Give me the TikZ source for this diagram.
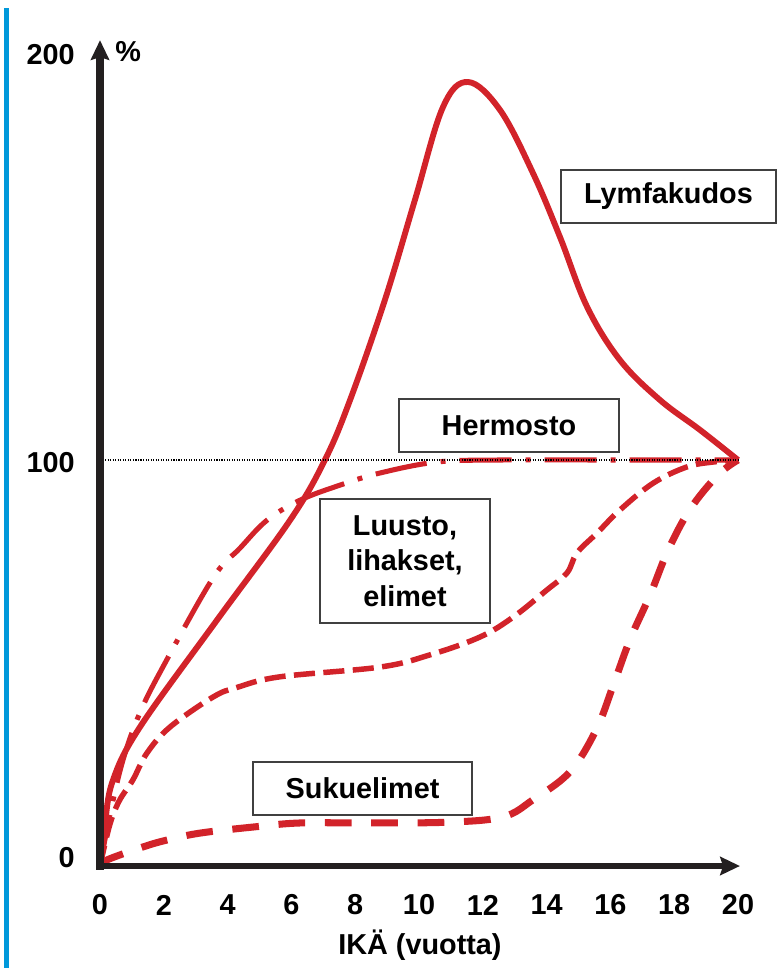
\documentclass[tikz,border=0pt]{standalone}
\usepackage{fontspec}
\setmainfont{Liberation Sans}
\usetikzlibrary{arrows.meta}
\definecolor{curvered}{RGB}{210,35,42}
\definecolor{axisblack}{RGB}{35,31,32}
\definecolor{edgeblue}{RGB}{0,152,218}

\begin{document}
\begin{tikzpicture}[x=0.7975cm, y=0.1015cm,
    font=\fontsize{20.5}{25}\selectfont\bfseries,
    labelbox/.style={draw=black!75, line width=1.3pt, fill=white, align=center, inner sep=0pt},
    axisline/.style={axisblack, line cap=rect, -{Stealth[length=14pt,width=13pt,inset=2pt]}},
    lymfline/.style={curvered, line width=4.2pt},
    hermoline/.style={curvered, line width=3.6pt, dash pattern=on 37pt off 10pt on 3.5pt off 10pt},
    luustoline/.style={curvered, line width=3.9pt, dash pattern=on 15pt off 6pt},
    sukuline/.style={curvered, line width=5pt, dash pattern=on 19pt off 14pt}]
    \useasboundingbox (-3.135,-25.12) rectangle (21.254,213.3);
    \draw[edgeblue, line width=3pt] (-2.93,-25.12) -- (-2.93,211.3);

    \coordinate (o) at (0,0);
    \coordinate (ytop) at (0,203.4);
    \coordinate (xend) at (20.06,0);
    \coordinate (h0) at (0,100);
    \coordinate (conv) at (20,100);

    \draw[lymfline] plot[smooth, tension=0.6] coordinates {(0,0) (0.15,10) (0.4,21) (1.25,34.2) (3.67,60.6) (5.96,85.2) (7.05,100) (7.84,114.8) (8.93,139.4) (9.87,164.0) (10.75,186.9) (11.54,193.1) (12.54,186.2) (13.57,170.7) (14.42,154.9) (15.27,137.7) (16.30,124.6) (17.55,114.8) (18.81,107.4) (20,100)};
    \draw[hermoline] plot[smooth, tension=0.6] coordinates {(0,0) (0.31,12.6) (0.72,26.1) (1.25,37.7) (1.97,49.0) (3.54,70.9) (4.39,78.3) (5.24,85.2) (6.27,90.1) (7.52,93.8) (8.78,96.8) (10.56,99.5) (12.54,100) (16,100) (20,100)};
    \draw[luustoline] plot[smooth, tension=0.6] coordinates {(0,0) (0.3,10) (0.6,16) (1.03,21.2) (1.47,27.8) (2.19,34.2) (3.54,41.6) (4.3,44) (5.64,46.6) (8.78,49.0) (10.34,52.0) (11.91,56.4) (12.95,61.3) (14.01,68.0) (14.64,72.2) (14.95,77.1) (15.58,82.0) (16.30,87.7) (17.34,94.3) (18.40,98.3) (19.22,99.5) (20,100)};
    \draw[sukuline] plot[smooth, tension=0.6] coordinates {(0,0) (0.22,1.5) (1.35,4.7) (2.1,6.4) (3.13,8.1) (4.8,9.6) (6.27,10.6) (8.37,10.6) (10.92,10.8) (12.63,12.1) (13.57,16.3) (14.73,23.2) (15.55,33.5) (16.08,44.3) (16.61,55.7) (17.24,66.7) (17.81,77.8) (18.50,87.9) (19.37,96.3) (20,100)};

    \draw[black, line width=0.8pt, densely dotted] (h0) -- (conv);

    \draw[axisline, line width=5.5pt] (o) -- (ytop);
    \draw[axisline, line width=4.5pt] (o) -- (xend);

    \node[labelbox, minimum width=5.375cm, minimum height=1.325cm] (lymf) at (17.82,164.9) {Lymfakudos};
    \node[labelbox, minimum width=5.5cm, minimum height=1.325cm] (hermo) at (12.82,108.5) {Hermosto};
    \node[labelbox, minimum width=4.25cm, minimum height=3.1cm] (luusto) at (9.56,75.1) {Luusto,\\lihakset,\\elimet};
    \node[labelbox, minimum width=5.475cm, minimum height=1.325cm] (suku) at (8.23,19.1) {Sukuelimet};

    \node[anchor=east, inner sep=0pt] (l200) at (-0.784,199.8) {200};
    \node[anchor=east, inner sep=0pt] (l100) at (-0.784,99.3) {100};
    \node[anchor=east, inner sep=0pt] (l0) at (-0.784,2.2) {0};
    \node[inner sep=0pt] (pct) at (0.88,200.5) {\%};
    \foreach \x in {0,2,...,20}
        \node[inner sep=0pt] (t\x) at (\x,-9.6) {\x};
    \node[inner sep=0pt] (ika) at (10.03,-19.5) {IKÄ (vuotta)};
\end{tikzpicture}
\end{document}
